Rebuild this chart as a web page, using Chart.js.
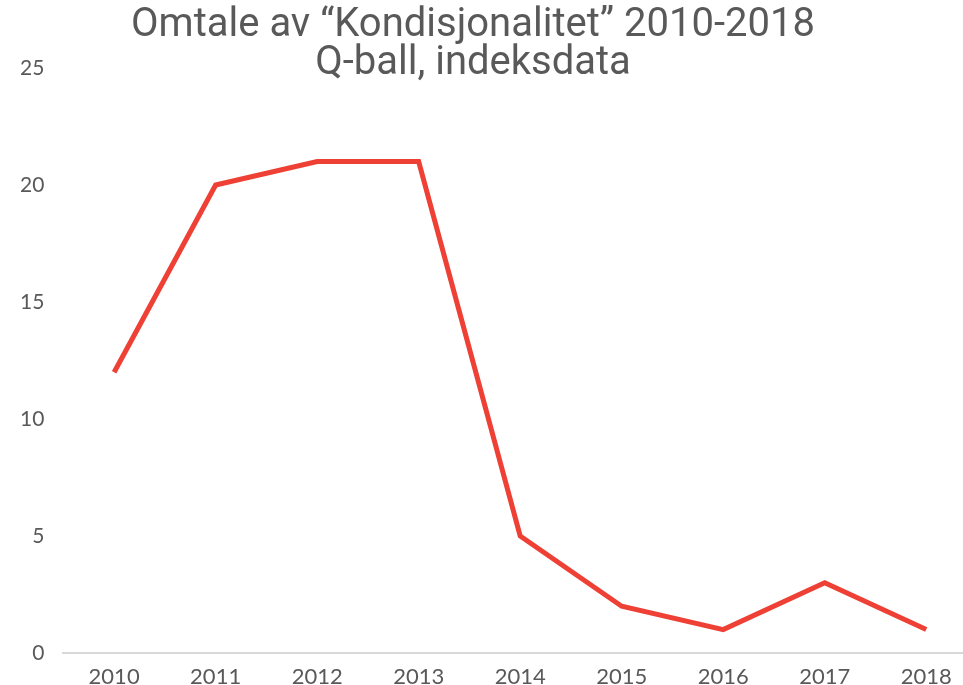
<!DOCTYPE html>
<html>
<head>
<meta charset="utf-8">
<script src="https://cdn.jsdelivr.net/npm/chart.js@4"></script>
<style>
  html, body { margin: 0; padding: 0; background: #fff; overflow: hidden; }
  #wrap { position: relative; width: 963px; height: 685px; overflow: hidden; }
  #title {
    position: absolute; left: 0; top: 4px; width: 946px; text-align: center;
    font-family: Roboto, sans-serif; font-size: 40px; line-height: 38px; color: #595959;
  }
</style>
</head>
<body>
<div id="wrap">
  <canvas id="chart" width="977" height="685"></canvas>
  <div id="title">Omtale av “Kondisjonalitet” 2010-2018<br>Q-ball, indeksdata</div>
</div>
<script>
// data
const years = ['2010', '2011', '2012', '2013', '2014', '2015', '2016', '2017', '2018'];
const mentions = [12, 20, 21, 21, 5, 2, 1, 3, 1];
const yTicks = [0, 5, 10, 15, 20, 25];

const ctx = document.getElementById('chart').getContext('2d');
new Chart(ctx, {
    type: 'line',
    data: {
        labels: years,
        datasets: [{
            data: mentions,
            borderColor: '#ee4035',
            borderWidth: 5,
            pointRadius: 0,
            tension: 0,
            fill: false
        }]
    },
    options: {
        responsive: false,
        animation: false,
        layout: { padding: { top: 68, right: 0, left: 1, bottom: -16 } },
        plugins: { legend: { display: false }, title: { display: false }, tooltip: { enabled: false } },
        scales: {
            x: {
                offset: true,
                grid: { display: false, drawTicks: false, offset: true },
                border: { display: true, color: '#d9d9d9', width: 2 },
                ticks: { color: '#595959', font: { family: 'Lato', size: 22, lineHeight: 1 }, padding: 13, maxRotation: 0 }
            },
            y: {
                min: 0, max: 25,
                afterBuildTicks: axis => { axis.ticks = yTicks.map(v => ({ value: v })); },
                grid: { display: false, drawTicks: false },
                border: { display: false },
                ticks: { color: '#595959', font: { family: 'Lato', size: 21 }, padding: 19 }
            }
        }
    }
});
</script>
</body>
</html>
